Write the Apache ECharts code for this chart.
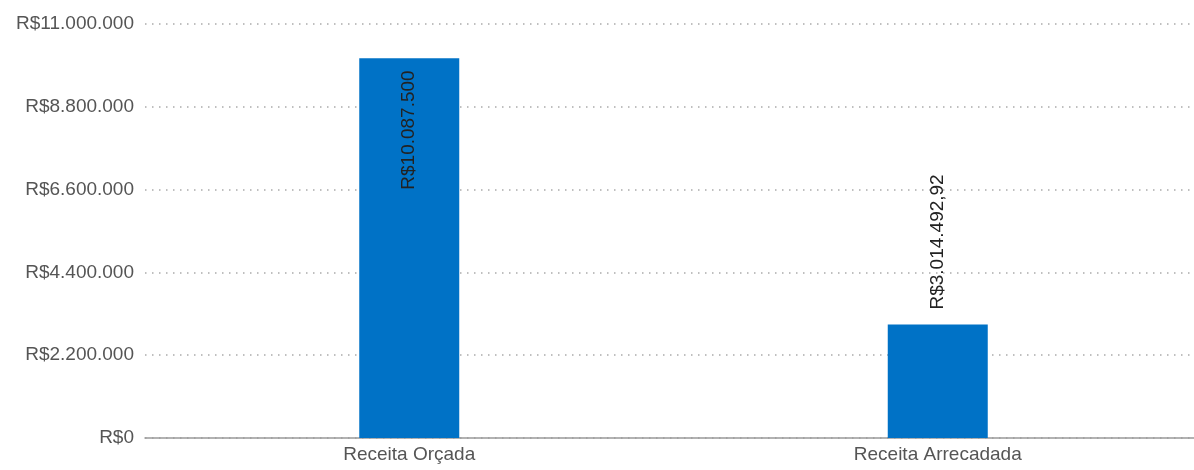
<!DOCTYPE html>
<html>
<head>
<meta charset="utf-8">
<script src="https://cdn.jsdelivr.net/npm/echarts@6/dist/echarts.min.js"></script>
<style>
html,body{margin:0;padding:0;background:#fff;overflow:hidden;}
#chart{width:1202px;height:470px;}
</style>
</head>
<body>
<div id="chart"></div>
<script>
var categories = ['Receita Orçada', 'Receita Arrecadada'];
var values = [10087500, 3014492.92];
var axisMin = 0;
var axisMax = 11000000;
var axisInterval = 2200000;

function fmtBR(v, decimals) {
  var neg = v < 0; v = Math.abs(v);
  var s = v.toFixed(decimals);
  var parts = s.split('.');
  var intPart = parts[0].replace(/\B(?=(\d{3})+(?!\d))/g, '.');
  var out = 'R$' + intPart;
  if (parts[1] && Number(parts[1]) !== 0) out += ',' + parts[1];
  return (neg ? '-' : '') + out;
}

var chart = echarts.init(document.getElementById('chart'), null, {renderer: 'canvas'});
var font = 'Liberation Sans, Arial, sans-serif';
chart.setOption({
  animation: false,
  grid: {left: 145, right: 0, top: 24, bottom: 32, containLabel: false},
  xAxis: {
    type: 'category',
    data: categories,
    axisLine: {show: true, lineStyle: {color: '#999', width: 1.5}},
    axisTick: {show: false},
    axisLabel: {color: '#555', fontSize: 19, fontFamily: font, margin: 7}
  },
  yAxis: {
    type: 'value',
    min: axisMin,
    max: axisMax,
    interval: axisInterval,
    axisLine: {show: false},
    axisTick: {show: false},
    axisLabel: {color: '#555', fontSize: 19, fontFamily: font, margin: 11,
      formatter: function (v) { return fmtBR(v, 0); }},
    splitLine: {show: true, lineStyle: {color: '#aaa', width: 1.5, type: [1.5, 5.5]}}
  },
  series: [{
    type: 'bar',
    data: values.map(function (v, i) {
      return {
        value: v,
        label: i === 0
          ? {position: 'insideTop', distance: 12, align: 'right'}
          : {position: 'top', distance: 15, align: 'left'}
      };
    }),
    barWidth: 100,
    itemStyle: {color: '#0072c6'},
    label: {
      show: true,
      rotate: 90,
      verticalAlign: 'middle',
      color: '#222',
      fontSize: 19,
      fontFamily: font,
      formatter: function (p) {
        return fmtBR(p.value, p.value % 1 === 0 ? 0 : 2);
      }
    }
  }]
});
</script>
</body>
</html>
